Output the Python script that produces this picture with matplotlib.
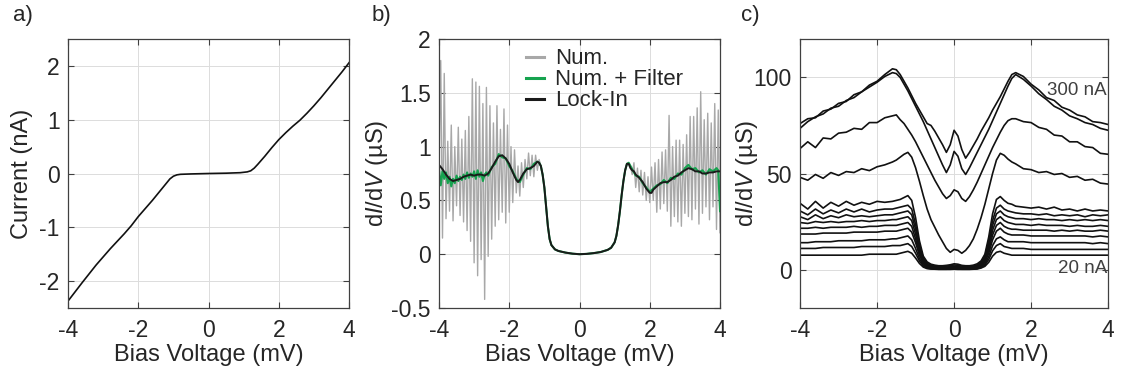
import matplotlib
matplotlib.use("Agg")
import matplotlib.pyplot as plt
from matplotlib.ticker import FormatStrFormatter

plt.rcParams['font.family'] = ['Liberation Sans', 'DejaVu Sans']
plt.rcParams['mathtext.fontset'] = 'custom'
plt.rcParams['mathtext.rm'] = 'Liberation Sans'
plt.rcParams['mathtext.it'] = 'Liberation Sans:italic'
plt.rcParams['axes.unicode_minus'] = False

TXT = '#262626'

# ---- panel a: I-V curve ----
iv_v = [-4.0, -3.6, -3.2, -2.8, -2.4, -2.2, -2.0, -1.8, -1.6, -1.4, -1.2, -1.1, -1.0, -0.9, -0.8,
        -0.5, 0.0, 0.5, 0.9, 1.1, 1.2, 1.3, 1.4, 1.6, 1.8, 2.0, 2.2, 2.4, 2.6, 2.8, 3.0, 3.2,
        3.4, 3.6, 3.8, 4.0]
iv_i = [-2.37, -2.03, -1.70, -1.40, -1.12, -0.97, -0.80, -0.65, -0.50, -0.34, -0.18, -0.10,
        -0.05, -0.025, -0.015, -0.008, 0.0, 0.006, 0.015, 0.03, 0.05, 0.10, 0.17, 0.32, 0.48,
        0.63, 0.76, 0.88, 0.99, 1.12, 1.26, 1.41, 1.57, 1.73, 1.89, 2.06]

# ---- panel b: dI/dV ----
lockin_v = [-4.0, -3.9, -3.8, -3.7, -3.6, -3.5, -3.4, -3.3, -3.2, -3.1, -3.0, -2.9, -2.8, -2.7,
            -2.6, -2.5, -2.4, -2.3, -2.2, -2.1, -2.0, -1.9, -1.8, -1.75, -1.7, -1.6, -1.5, -1.4,
            -1.3, -1.2, -1.15, -1.1, -1.05, -1.0, -0.95, -0.9, -0.85, -0.8, -0.7, -0.6, -0.4,
            -0.2, 0.0, 0.2, 0.4, 0.6, 0.8, 0.9, 1.0, 1.05, 1.1, 1.15, 1.2, 1.25, 1.3, 1.35, 1.4,
            1.45, 1.5, 1.55, 1.6, 1.7, 1.8, 1.9, 2.0, 2.05, 2.1, 2.2, 2.3, 2.4, 2.5, 2.6, 2.7,
            2.8, 2.9, 3.0, 3.1, 3.2, 3.3, 3.4, 3.5, 3.6, 3.7, 3.8, 3.9, 4.0]
lockin = [0.83, 0.79, 0.74, 0.70, 0.68, 0.69, 0.70, 0.72, 0.73, 0.74, 0.73, 0.74, 0.74, 0.73,
          0.75, 0.80, 0.86, 0.91, 0.92, 0.89, 0.84, 0.76, 0.69, 0.67, 0.69, 0.75, 0.79, 0.80,
          0.82, 0.86, 0.85, 0.82, 0.74, 0.62, 0.44, 0.26, 0.14, 0.085, 0.045, 0.03, 0.015,
          0.005, 0.0, 0.003, 0.01, 0.02, 0.04, 0.06, 0.11, 0.17, 0.27, 0.40, 0.55, 0.68, 0.78,
          0.84, 0.84, 0.80, 0.78, 0.77, 0.74, 0.71, 0.67, 0.61, 0.57, 0.57, 0.60, 0.63, 0.66,
          0.67, 0.67, 0.69, 0.72, 0.73, 0.76, 0.78, 0.80, 0.79, 0.77, 0.77, 0.75, 0.75, 0.76,
          0.76, 0.77, 0.77]

num_left_v = [-4.00, -3.95, -3.90, -3.85, -3.80, -3.75, -3.70, -3.65, -3.60, -3.55, -3.50,
              -3.45, -3.40, -3.35, -3.30, -3.25, -3.20, -3.15, -3.10, -3.05, -3.00, -2.95,
              -2.90, -2.85, -2.80, -2.75, -2.70, -2.65, -2.60, -2.55, -2.50, -2.45, -2.40,
              -2.35, -2.30, -2.25, -2.20, -2.15, -2.10, -2.05, -2.00, -1.95, -1.90, -1.85,
              -1.80, -1.75, -1.70, -1.65, -1.60, -1.55, -1.50, -1.45, -1.40, -1.35, -1.30,
              -1.25, -1.20, -1.15]
num_left = [0.80, 1.80, 0.15, 1.68, 0.33, 1.05, 0.40, 1.20, 0.31, 1.00, 0.45, 1.18, 0.36, 1.07,
            0.30, 1.15, 0.22, 1.28, 0.12, 1.63, -0.08, 1.60, -0.20, 1.56, -0.05, 1.40, -0.42,
            1.55, -0.02, 1.38, 0.14, 1.22, 0.26, 1.38, 0.32, 1.16, 0.39, 1.35, 0.29, 1.20, 0.39,
            1.00, 0.48, 0.97, 0.57, 0.82, 0.54, 0.85, 0.62, 0.88, 0.70, 0.94, 0.73, 0.92, 0.72,
            0.92, 0.78, 0.88]
num_right_v = [1.45, 1.50, 1.55, 1.60, 1.65, 1.70, 1.75, 1.80, 1.85, 1.90, 1.95, 2.00, 2.05,
               2.10, 2.15, 2.20, 2.25, 2.30, 2.35, 2.40, 2.45, 2.50, 2.55, 2.60, 2.65, 2.70,
               2.75, 2.80, 2.85, 2.90, 2.95, 3.00, 3.05, 3.10, 3.15, 3.20, 3.25, 3.30, 3.35,
               3.40, 3.45, 3.50, 3.55, 3.60, 3.65, 3.70, 3.75, 3.80, 3.85, 3.90, 3.95, 4.00]
num_right = [0.82, 0.74, 0.85, 0.62, 0.80, 0.58, 0.78, 0.55, 0.76, 0.50, 0.72, 0.48, 0.81, 0.50,
             0.85, 0.39, 0.88, 0.42, 0.95, 0.47, 0.97, 0.40, 1.29, 0.26, 1.00, 0.35, 1.06, 0.30,
             1.06, 0.26, 1.02, 0.38, 1.11, 0.35, 1.28, 0.32, 1.28, 0.42, 1.36, 0.28, 1.51, 0.38,
             1.25, 0.44, 1.31, 0.32, 1.22, 0.44, 1.40, 0.23, 1.34, 0.20]

filt_left_v = [-4.0, -3.95, -3.9, -3.85, -3.8, -3.75, -3.7, -3.65, -3.6, -3.55, -3.5, -3.45,
               -3.4, -3.35, -3.3, -3.25, -3.2, -3.15, -3.1, -3.05, -3.0, -2.95, -2.9, -2.85,
               -2.8, -2.75, -2.7, -2.65, -2.6, -2.5, -2.4, -2.3, -2.2, -2.1, -2.0, -1.9, -1.8,
               -1.7, -1.6, -1.5, -1.4, -1.3, -1.2]
filt_left = [0.80, 0.64, 0.77, 0.70, 0.76, 0.66, 0.72, 0.63, 0.70, 0.66, 0.73, 0.68, 0.72, 0.69,
             0.74, 0.70, 0.76, 0.71, 0.75, 0.72, 0.77, 0.70, 0.78, 0.72, 0.76, 0.68, 0.74, 0.76,
             0.73, 0.81, 0.84, 0.93, 0.90, 0.89, 0.82, 0.77, 0.70, 0.67, 0.74, 0.80, 0.79, 0.84,
             0.86]
filt_right_v = [1.4, 1.5, 1.6, 1.7, 1.8, 1.9, 2.0, 2.1, 2.2, 2.3, 2.4, 2.5, 2.6, 2.7, 2.8, 2.9,
                3.0, 3.1, 3.2, 3.3, 3.4, 3.5, 3.6, 3.7, 3.8, 3.9, 3.95, 4.0]
filt_right = [0.85, 0.79, 0.73, 0.72, 0.66, 0.62, 0.58, 0.61, 0.64, 0.65, 0.69, 0.66, 0.71, 0.70,
              0.75, 0.74, 0.80, 0.83, 0.79, 0.80, 0.76, 0.78, 0.74, 0.79, 0.77, 0.80, 0.78, 0.40]

# ---- panel c: dI/dV for several currents (20 nA ... 300 nA) ----
vc = [-4.0, -3.8, -3.6, -3.4, -3.2, -3.0, -2.8, -2.6, -2.4, -2.2, -2.0, -1.8, -1.6,
      -1.5, -1.4, -1.3, -1.2, -1.1, -1.0, -0.9, -0.8, -0.7, -0.6, -0.5, -0.4, -0.3, -0.2, -0.1,
      0.0, 0.1, 0.2, 0.3, 0.4, 0.5, 0.6, 0.7, 0.8, 0.9, 1.0, 1.1, 1.2, 1.3, 1.4, 1.5,
      1.6, 1.8, 2.0, 2.2, 2.4, 2.6, 2.8, 3.0, 3.2, 3.4, 3.6, 3.8, 4.0]

g300 = [76.0, 78.5, 79.0, 82.5, 83.5, 86.5, 87.5, 91.0, 92.5, 96.0, 98.0, 101.5, 104.5,
        104.0, 101.5, 98.0, 94.5, 90.5, 86.5, 83.0, 79.5, 76.0, 75.0, 72.0, 68.5, 65.0, 61.0, 65.0,
        72.5, 69.5, 62.5, 58.0, 61.0, 64.5, 68.0, 72.0, 75.5, 79.0, 83.0, 86.5, 90.0, 94.0, 98.0, 101.5,
        102.5, 100.5, 96.5, 93.5, 89.5, 88.0, 84.5, 83.0, 80.5, 79.5, 77.0, 76.5, 75.5]
g250 = [73.5, 77.0, 79.5, 81.0, 84.0, 85.0, 88.0, 89.5, 92.5, 95.0, 97.5, 100.5, 102.5,
        102.0, 100.0, 96.5, 93.0, 89.0, 85.0, 81.0, 77.0, 72.5, 68.0, 63.5, 59.0, 54.5, 50.5, 54.5,
        61.5, 59.0, 52.5, 49.5, 53.0, 57.0, 61.0, 65.0, 69.0, 73.0, 77.5, 82.0, 86.5, 91.0, 95.5, 99.5,
        101.5, 99.0, 95.5, 91.5, 88.5, 85.0, 83.0, 80.0, 78.5, 76.5, 75.5, 73.5, 72.5]
g200 = [63.0, 66.5, 63.5, 68.5, 68.0, 71.0, 71.5, 73.5, 73.0, 76.5, 76.5, 79.0, 80.0,
        80.5, 78.0, 76.0, 73.0, 70.0, 66.5, 62.5, 58.5, 54.5, 50.5, 46.5, 43.0, 39.5, 37.0, 38.5,
        41.5, 40.5, 37.0, 35.5, 38.0, 41.5, 45.5, 50.0, 54.5, 59.0, 63.5, 67.5, 71.5, 75.0, 77.5, 78.5,
        78.5, 77.0, 76.5, 74.0, 73.0, 70.0, 69.5, 66.5, 66.5, 64.0, 63.5, 60.5, 60.0]
g150 = [48.0, 46.5, 49.5, 47.5, 50.5, 49.0, 51.0, 50.5, 52.5, 51.5, 53.5, 54.5, 56.0,
        57.0, 58.5, 60.0, 61.0, 58.5, 53.0, 46.0, 38.5, 31.5, 26.0, 22.0, 18.0, 14.5, 11.0, 9.0,
        10.5, 10.0, 8.5, 10.0, 12.5, 16.0, 21.0, 27.0, 34.0, 42.0, 50.0, 57.0, 60.5, 59.5, 57.5, 56.0,
        55.0, 52.5, 52.0, 50.5, 51.0, 49.5, 50.0, 48.0, 48.5, 46.5, 47.0, 45.0, 44.5]
g100 = [34.5, 31.5, 35.5, 32.0, 35.0, 33.0, 35.5, 33.5, 35.0, 34.0, 35.5, 35.0, 35.5,
        36.0, 36.5, 37.5, 38.5, 36.0, 27.0, 15.0, 7.0, 4.0, 2.8, 2.3, 2.0, 2.0, 2.2, 2.5,
        3.0, 2.8, 2.2, 2.0, 2.0, 2.3, 3.0, 4.5, 8.0, 17.0, 29.0, 36.5, 38.0, 36.0, 34.5, 34.0,
        33.0, 32.5, 32.0, 32.5, 31.5, 32.5, 31.0, 31.5, 30.5, 31.5, 30.5, 31.0, 30.5]
g90 = [30.5, 28.5, 31.5, 29.0, 31.0, 29.5, 31.5, 30.0, 31.5, 30.0, 31.0, 31.5, 31.5,
       32.0, 32.5, 33.0, 33.5, 31.5, 23.5, 13.0, 6.0, 3.3, 2.2, 1.8, 1.6, 1.6, 1.8, 2.0,
       2.4, 2.2, 1.8, 1.6, 1.6, 1.8, 2.4, 3.8, 7.0, 15.0, 25.5, 32.0, 33.5, 31.5, 30.5, 30.0,
       29.5, 29.0, 29.0, 28.5, 29.0, 28.0, 28.5, 28.0, 28.5, 27.5, 28.5, 28.0, 28.5]
g80 = [27.5, 26.0, 28.5, 26.5, 28.0, 27.0, 28.5, 27.5, 28.0, 27.5, 28.0, 28.5, 28.5,
       29.0, 29.5, 30.0, 30.5, 28.5, 21.0, 11.5, 5.2, 2.8, 1.8, 1.4, 1.2, 1.2, 1.3, 1.5,
       1.8, 1.6, 1.3, 1.2, 1.2, 1.4, 1.9, 3.2, 6.0, 13.0, 23.0, 29.0, 30.5, 28.5, 27.5, 27.0,
       26.5, 26.5, 26.0, 26.5, 26.0, 26.0, 25.5, 26.0, 25.5, 26.0, 25.5, 26.0, 25.5]
g70 = [24.5, 24.0, 25.0, 24.5, 25.0, 24.5, 25.0, 25.0, 25.5, 25.0, 25.5, 25.5, 26.0,
       26.0, 26.5, 27.0, 27.5, 25.5, 18.5, 10.0, 4.5, 2.3, 1.4, 1.1, 0.9, 0.9, 1.0, 1.1,
       1.3, 1.2, 1.0, 0.9, 0.9, 1.1, 1.5, 2.7, 5.2, 11.5, 20.5, 26.0, 27.5, 25.5, 24.5, 24.0,
       23.5, 23.5, 23.0, 23.5, 23.0, 23.0, 23.0, 22.5, 23.0, 22.5, 22.5, 23.0, 22.5]
g60 = [21.5, 21.5, 22.0, 21.5, 22.0, 22.0, 22.0, 22.5, 22.0, 22.5, 22.5, 23.0, 23.0,
       23.0, 23.5, 24.0, 24.5, 22.5, 16.0, 8.5, 3.8, 1.9, 1.1, 0.8, 0.7, 0.7, 0.7, 0.8,
       1.0, 0.9, 0.7, 0.7, 0.7, 0.8, 1.2, 2.2, 4.5, 10.0, 18.0, 23.0, 24.5, 22.5, 21.5, 21.0,
       21.0, 20.5, 20.5, 20.5, 20.5, 20.0, 20.5, 20.0, 20.5, 20.0, 20.0, 20.5, 20.0]
g50 = [18.5, 18.5, 18.5, 19.0, 19.0, 19.0, 19.0, 19.5, 19.5, 19.5, 19.5, 20.0, 20.0,
       20.0, 20.5, 21.0, 21.5, 19.5, 14.0, 7.5, 3.2, 1.5, 0.8, 0.6, 0.5, 0.5, 0.5, 0.6,
       0.7, 0.6, 0.5, 0.5, 0.5, 0.6, 0.9, 1.8, 3.8, 8.5, 15.5, 20.0, 21.5, 19.5, 18.5, 18.0,
       18.0, 18.0, 17.5, 17.5, 17.5, 17.5, 17.5, 17.5, 17.5, 17.5, 17.0, 17.5, 17.0]
g40 = [14.0, 14.0, 14.5, 14.5, 14.5, 15.0, 15.0, 15.0, 15.0, 15.5, 15.5, 15.5, 16.0,
       16.0, 16.5, 17.0, 17.5, 15.5, 11.0, 5.8, 2.4, 1.1, 0.6, 0.4, 0.3, 0.3, 0.3, 0.4,
       0.5, 0.4, 0.3, 0.3, 0.3, 0.4, 0.7, 1.4, 3.0, 6.8, 12.5, 16.0, 17.0, 15.5, 14.5, 14.5,
       14.5, 14.5, 14.0, 14.0, 14.0, 14.0, 14.0, 14.0, 14.0, 14.0, 13.5, 14.0, 13.5]
g30 = [11.0, 11.0, 11.0, 11.5, 11.5, 11.5, 11.5, 11.5, 12.0, 12.0, 12.0, 12.0, 12.5,
       12.5, 12.5, 13.0, 13.5, 12.0, 8.5, 4.5, 1.9, 0.8, 0.4, 0.3, 0.2, 0.2, 0.2, 0.3,
       0.3, 0.3, 0.2, 0.2, 0.2, 0.3, 0.5, 1.1, 2.4, 5.3, 9.8, 12.5, 13.5, 12.0, 11.5, 11.0,
       11.0, 11.0, 10.5, 10.5, 10.5, 10.5, 10.5, 10.5, 10.5, 10.5, 10.5, 10.5, 10.5]
g20 = [7.5, 7.5, 7.5, 7.5, 7.5, 7.5, 7.5, 7.5, 7.5, 8.0, 8.0, 8.0, 8.0,
       8.0, 8.5, 9.0, 9.5, 8.5, 6.0, 3.2, 1.3, 0.5, 0.3, 0.2, 0.1, 0.1, 0.1, 0.1,
       0.2, 0.1, 0.1, 0.1, 0.1, 0.2, 0.3, 0.8, 1.7, 3.8, 7.0, 9.0, 9.5, 8.5, 8.0, 7.5,
       7.5, 7.5, 7.5, 7.5, 7.5, 7.5, 7.5, 7.5, 7.5, 7.5, 7.5, 7.5, 7.5]
curves_c = [g300, g250, g200, g150, g100, g90, g80, g70, g60, g50, g40, g30, g20]


def style_axes(ax):
    ax.grid(True, color='#dcdcdc', linewidth=0.7)
    ax.set_axisbelow(True)
    for s in ax.spines.values():
        s.set_color('#404040')
        s.set_linewidth(0.9)
    ax.tick_params(direction='in', length=4, width=0.8, color='#404040',
                   labelsize=16.5, labelcolor=TXT, top=True, right=True)
    ax.tick_params(axis='x', pad=8)
    ax.tick_params(axis='y', pad=6)
    ax.set_xlim(-4, 4)
    ax.set_xticks([-4, -2, 0, 2, 4])
    ax.yaxis.set_major_formatter(FormatStrFormatter('%g'))
    ax.set_xlabel('Bias Voltage (mV)', fontsize=17, color=TXT)
    ax.xaxis.set_label_coords(0.5, -0.135)


fig = plt.figure(figsize=(11.21, 3.79), dpi=100)
ax_a = fig.add_axes([0.0607, 0.1873, 0.2507, 0.7098])
ax_b = fig.add_axes([0.3916, 0.1873, 0.2507, 0.7098])
ax_c = fig.add_axes([0.7137, 0.1873, 0.2748, 0.7098])

# a)
style_axes(ax_a)
ax_a.plot(iv_v, iv_i, color='#111111', lw=1.2)
ax_a.set_ylim(-2.5, 2.5)
ax_a.set_yticks([-2, -1, 0, 1, 2])
ax_a.set_ylabel('Current (nA)', fontsize=17, color=TXT)
ax_a.yaxis.set_label_coords(-0.125, 0.5)

# b)
style_axes(ax_b)
center = [(v, g) for v, g in zip(lockin_v, lockin) if -1.1 <= v <= 1.4]
num_v = num_left_v + [p[0] for p in center] + num_right_v
num_g = num_left + [p[1] for p in center] + num_right
center_f = [(v, g) for v, g in zip(lockin_v, lockin) if -1.15 <= v <= 1.35]
filt_v = filt_left_v + [p[0] for p in center_f] + filt_right_v
filt_g = filt_left + [p[1] for p in center_f] + filt_right
ax_b.plot(num_v, num_g, color='#a8a8a8', lw=1.0, label='Num.')
ax_b.plot(filt_v, filt_g, color='#16a34f', lw=1.5, label='Num. + Filter')
ax_b.plot(lockin_v, lockin, color='#1a1a1a', lw=1.4, label='Lock-In')
ax_b.set_ylim(-0.5, 2)
ax_b.set_yticks([-0.5, 0, 0.5, 1, 1.5, 2])
ax_b.set_ylabel(r'd$I$/d$V$ (µS)', fontsize=17, color=TXT)
ax_b.yaxis.set_label_coords(-0.175, 0.5)
leg = ax_b.legend(loc='upper left', bbox_to_anchor=(0.31, 0.965), frameon=False,
                  fontsize=16, handlelength=0.8, handletextpad=0.5, labelspacing=0.0,
                  borderpad=0, borderaxespad=0)
for h in leg.get_lines():
    h.set_linewidth(2.2)
for t in leg.get_texts():
    t.set_color(TXT)

# c)
style_axes(ax_c)
for g in curves_c:
    ax_c.plot(vc, g, color='#111111', lw=1.2)
ax_c.set_ylim(-20, 120)
ax_c.set_yticks([0, 50, 100])
ax_c.set_ylabel(r'd$I$/d$V$ (µS)', fontsize=17, color=TXT)
ax_c.yaxis.set_label_coords(-0.13, 0.5)
ax_c.text(3.97, 93, '300 nA', ha='right', va='center', fontsize=13.5, color='#404040')
ax_c.text(3.97, 0.5, '20 nA', ha='right', va='center', fontsize=13.5, color='#404040')

# panel letters
fig.text(13 / 1121, 1 - 21 / 379, 'a)', fontsize=16, color=TXT, va='baseline')
fig.text(372 / 1121, 1 - 21 / 379, 'b)', fontsize=16, color=TXT, va='baseline')
fig.text(741 / 1121, 1 - 21 / 379, 'c)', fontsize=16, color=TXT, va='baseline')

fig.savefig('out.png', dpi=100)
